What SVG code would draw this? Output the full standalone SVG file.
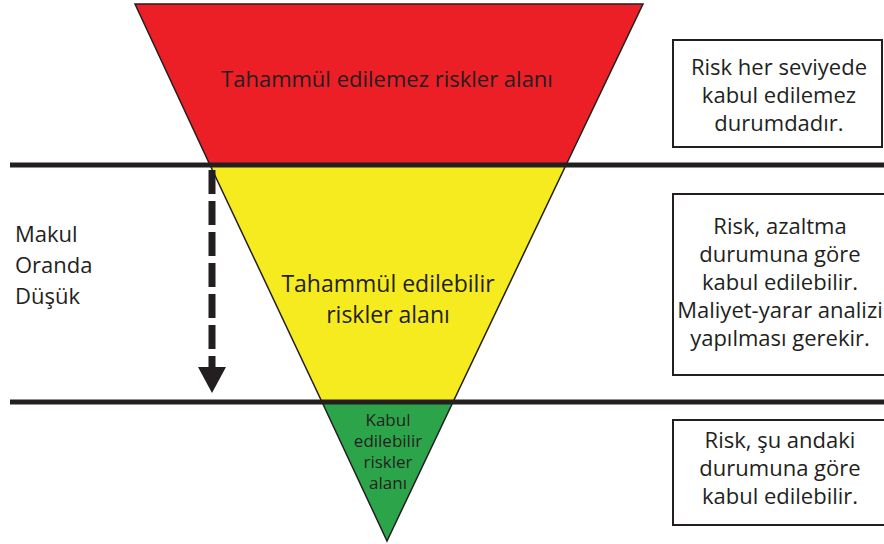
<svg xmlns="http://www.w3.org/2000/svg" width="884" height="544" viewBox="0 0 884 544">
<style>
text{font-family:"Open Sans","Noto Sans",sans-serif;fill:#231f20;text-anchor:middle}
.reg{stroke:#231f20;stroke-width:1.5;stroke-linejoin:miter}
.box{fill:#fff;stroke:#231f20;stroke-width:2}
.div{stroke:#231f20;stroke-width:5}
.t22{font-size:22px}
.t23{font-size:23px}
.t17{font-size:17px}
</style>
<rect width="884" height="544" fill="#fff"/>
<g id="region-red">
<polygon class="reg" fill="#ed1f26" points="135,4 643,4 566,165 210,165"/>
<text class="t22" x="387" y="87">Tahammül edilemez riskler alanı</text>
</g>
<g id="region-yellow">
<polygon class="reg" fill="#f5eb1f" points="210,165 566,165 453,402 322,402"/>
<text class="t23" x="388" y="292">Tahammül edilebilir</text>
<text class="t23" x="388" y="323">riskler alanı</text>
</g>
<g id="region-green">
<polygon class="reg" fill="#2ca44a" points="322,402 453,402 387,541"/>
<text class="t17" x="388" y="426">Kabul</text>
<text class="t17" x="388" y="447">edilebilir</text>
<text class="t17" x="388" y="468">riskler</text>
<text class="t17" x="388" y="489">alanı</text>
</g>
<g id="dividers">
<line class="div" x1="10" y1="165" x2="884" y2="165"/>
<line class="div" x1="10" y1="402" x2="884" y2="402"/>
</g>
<g id="connectors">
<line x1="212" y1="170" x2="212" y2="368" stroke="#231f20" stroke-width="7" stroke-dasharray="24 7"/>
<polygon points="198,367 226,367 212,393" fill="#231f20"/>
</g>
<g id="label-left">
<text class="t22" x="15" y="242" style="text-anchor:start">Makul</text>
<text class="t22" x="15" y="273" style="text-anchor:start">Oranda</text>
<text class="t22" x="15" y="304" style="text-anchor:start">Düşük</text>
</g>
<g id="box-1">
<rect class="box" x="673" y="40" width="209" height="107"/>
<text class="t22" x="779" y="75">Risk her seviyede</text>
<text class="t22" x="779" y="103">kabul edilemez</text>
<text class="t22" x="779" y="131">durumdadır.</text>
</g>
<g id="box-2">
<rect class="box" x="673" y="194" width="215" height="181"/>
<text class="t22" x="780" y="234">Risk, azaltma</text>
<text class="t22" x="780" y="262">durumuna göre</text>
<text class="t22" x="780" y="290">kabul edilebilir.</text>
<text class="t22" x="780" y="318">Maliyet-yarar analizi</text>
<text class="t22" x="780" y="346">yapılması gerekir.</text>
</g>
<g id="box-3">
<rect class="box" x="673" y="420" width="215" height="105"/>
<text class="t22" x="780" y="448">Risk, şu andaki</text>
<text class="t22" x="780" y="476">durumuna göre</text>
<text class="t22" x="780" y="504">kabul edilebilir.</text>
</g>
</svg>
